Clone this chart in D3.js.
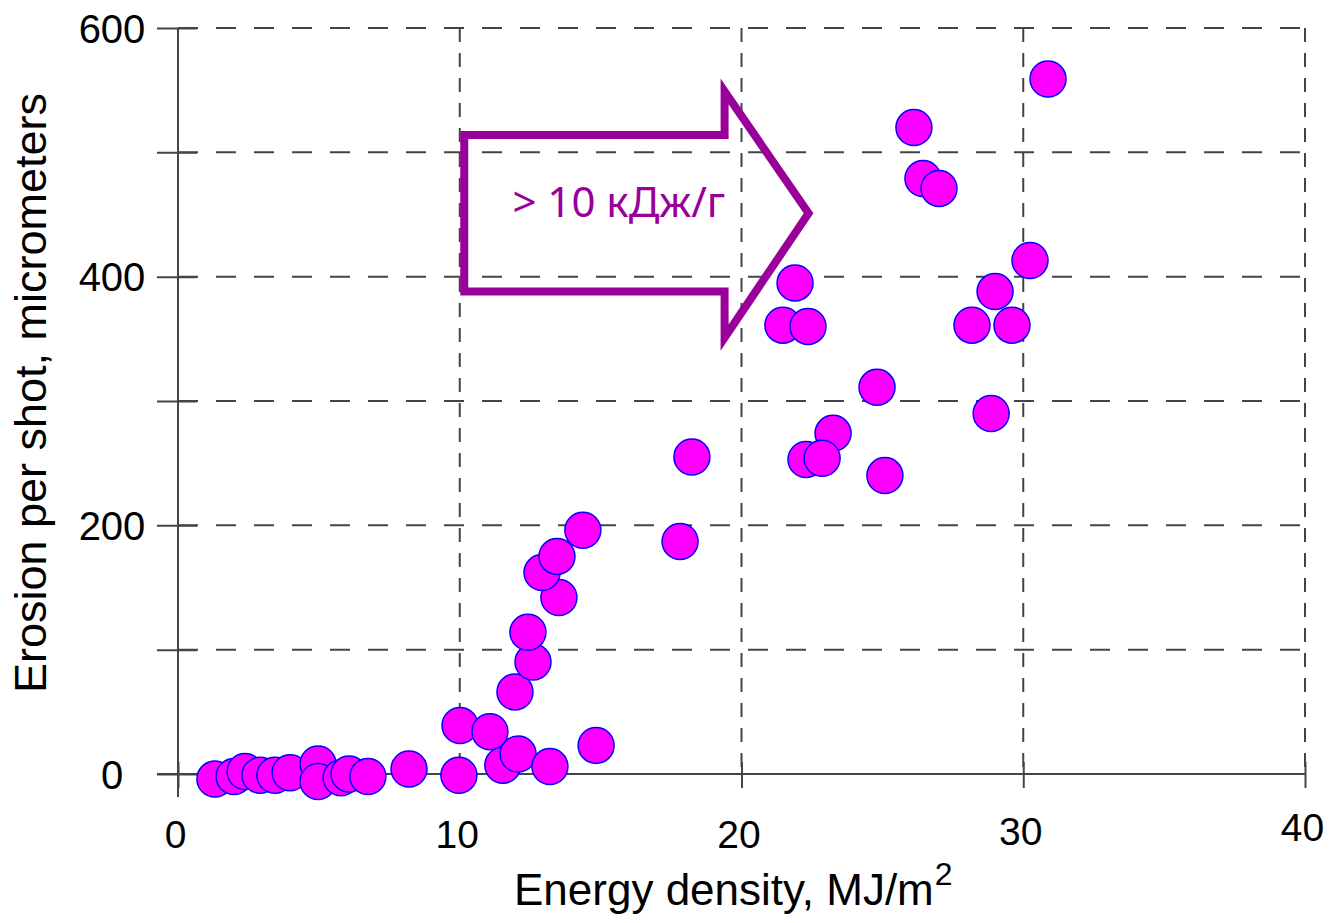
<!DOCTYPE html>
<html>
<head>
<meta charset="utf-8">
<script src="https://cdn.jsdelivr.net/npm/d3@7"></script>
<style>
  html, body { margin: 0; padding: 0; background: #fff; }
  svg { display: block; }
</style>
</head>
<body>
<svg id="chart" width="1330" height="923"></svg>
<script>
// Energy density of each shot, MJ/m^2
const energy = [
  1.31, 1.99, 2.38, 2.91, 3.44, 3.98, 4.97, 4.97, 5.79, 6.07, 6.74, 8.2,
  9.97, 10.01, 11.07, 11.53, 12.07, 13.2, 14.84,
  11.96, 12.6, 12.42, 13.52, 12.92, 13.45, 14.37,
  17.82, 18.24,
  21.9, 21.47, 22.36, 24.81, 23.25, 22.29, 22.86, 25.09,
  29.0, 28.18, 29.6, 28.86, 30.24,
  30.88, 26.12, 26.44, 27.01
];
// Erosion per shot, micrometers
const erosion = [
  -4, -2, 2, -1, -1, 1, 8, -6, -3, 0, -2, 4,
  -1, 39, 34, 7, 16, 6, 23,
  66, 90, 114, 142, 162, 175, 196,
  187, 255,
  395, 361, 360, 311, 274, 253, 254, 240,
  388, 361, 361, 290, 413,
  559, 520, 479, 471
];

const xTicks = [0, 10, 20, 30, 40];
const yTicks = [0, 100, 200, 300, 400, 500, 600];
const yTickLabels = ["0", "", "200", "", "400", "", "600"];

// Annotation arrow outline, in data units (energy, erosion)
const arrowX = [10.16, 19.4, 19.4, 22.38, 19.4, 19.4, 10.16];
const arrowY = [514, 514, 549, 451, 351, 388, 388];
const arrowLabel = "> 10 кДж/г";

const svg = d3.select("#chart");
const x = d3.scaleLinear().domain([0, 40]).range([178, 1305]);
const y = d3.scaleLinear().domain([0, 600]).range([774, 28]);

const lineColor = "#444";
const font = "'Liberation Sans', Arial, sans-serif";

// Dashed grid
const grid = svg.append("g");
grid.selectAll("line.h").data(yTicks.filter(d => d > 0)).join("line")
  .attr("x1", x(0)).attr("x2", x(40))
  .attr("y1", d => y(d)).attr("y2", d => y(d))
  .attr("stroke", lineColor).attr("stroke-width", 2)
  .attr("stroke-dasharray", "20,18");
grid.selectAll("line.v").data(xTicks.filter(d => d > 0)).join("line")
  .attr("x1", d => x(d)).attr("x2", d => x(d))
  .attr("y1", y(600)).attr("y2", y(0))
  .attr("stroke", lineColor).attr("stroke-width", 2)
  .attr("stroke-dasharray", "14,11");

// Axes
const xAxis = d3.axisBottom(x).tickValues(xTicks).tickSizeInner(14).tickSizeOuter(0).tickFormat(d3.format("d"));
const gx = svg.append("g").attr("transform", `translate(0,${y(0)})`).call(xAxis);
gx.select(".domain").remove();
gx.selectAll(".tick line").attr("y1", -12).attr("y2", 14).attr("stroke", lineColor).attr("stroke-width", 2);
gx.selectAll(".tick text")
  .attr("y", d => d >= 30 ? 71 - (d - 30) * 0.4 : 74).attr("dy", 0).attr("x", -3)
  .attr("font-family", font).attr("font-size", 39).attr("fill", "#000");
svg.append("line")
  .attr("x1", 157).attr("x2", x(40)).attr("y1", y(0)).attr("y2", y(0))
  .attr("stroke", lineColor).attr("stroke-width", 2);

const yAxis = d3.axisLeft(y).tickValues(yTicks).tickSizeOuter(0).tickFormat((d, i) => yTickLabels[i]);
const gy = svg.append("g").attr("transform", `translate(${x(0)},0)`).call(yAxis);
gy.select(".domain").remove();
gy.selectAll(".tick line").attr("x1", -21).attr("x2", 19).attr("stroke", lineColor).attr("stroke-width", 2);
gy.selectAll(".tick text")
  .attr("x", -66).attr("dy", "0.35em").attr("text-anchor", "middle")
  .attr("font-family", font).attr("font-size", 40).attr("fill", "#000");
svg.append("line")
  .attr("x1", x(0)).attr("x2", x(0)).attr("y1", y(600)).attr("y2", 797)
  .attr("stroke", lineColor).attr("stroke-width", 2);

// Axis titles
const xt = svg.append("text")
  .attr("x", 514).attr("y", 905)
  .attr("font-family", font).attr("font-size", 44).attr("fill", "#000");
xt.append("tspan").text("Energy density, MJ/m");
xt.append("tspan").attr("dx", 1).attr("dy", -20).attr("font-size", 32).text("2");

svg.append("text")
  .attr("transform", "translate(46,393) rotate(-90)")
  .attr("text-anchor", "middle")
  .attr("font-family", font).attr("font-size", 45).attr("fill", "#000")
  .text("Erosion per shot, micrometers");

// Annotation arrow
const purple = "#990099";
const arrowPts = arrowX.map((d, i) => [x(d), y(arrowY[i])]);
svg.append("path")
  .attr("d", d3.line()(arrowPts) + "Z")
  .attr("fill", "none").attr("stroke", purple).attr("stroke-width", 8)
  .attr("stroke-linejoin", "miter").attr("stroke-miterlimit", 10);
svg.append("text")
  .attr("x", x(11.87)).attr("y", y(448))
  .attr("font-family", "'Noto Sans', 'Open Sans', sans-serif").attr("font-size", 42)
  .attr("fill", purple)
  .text(arrowLabel);

// Data points
const pts = energy.map((e, i) => ({ e, v: erosion[i] }));
svg.append("g").selectAll("circle").data(pts).join("circle")
  .attr("cx", d => x(d.e)).attr("cy", d => y(d.v)).attr("r", 18)
  .attr("fill", "#ff00ff").attr("stroke", "#0000ff").attr("stroke-width", 1.5);
</script>
</body>
</html>
